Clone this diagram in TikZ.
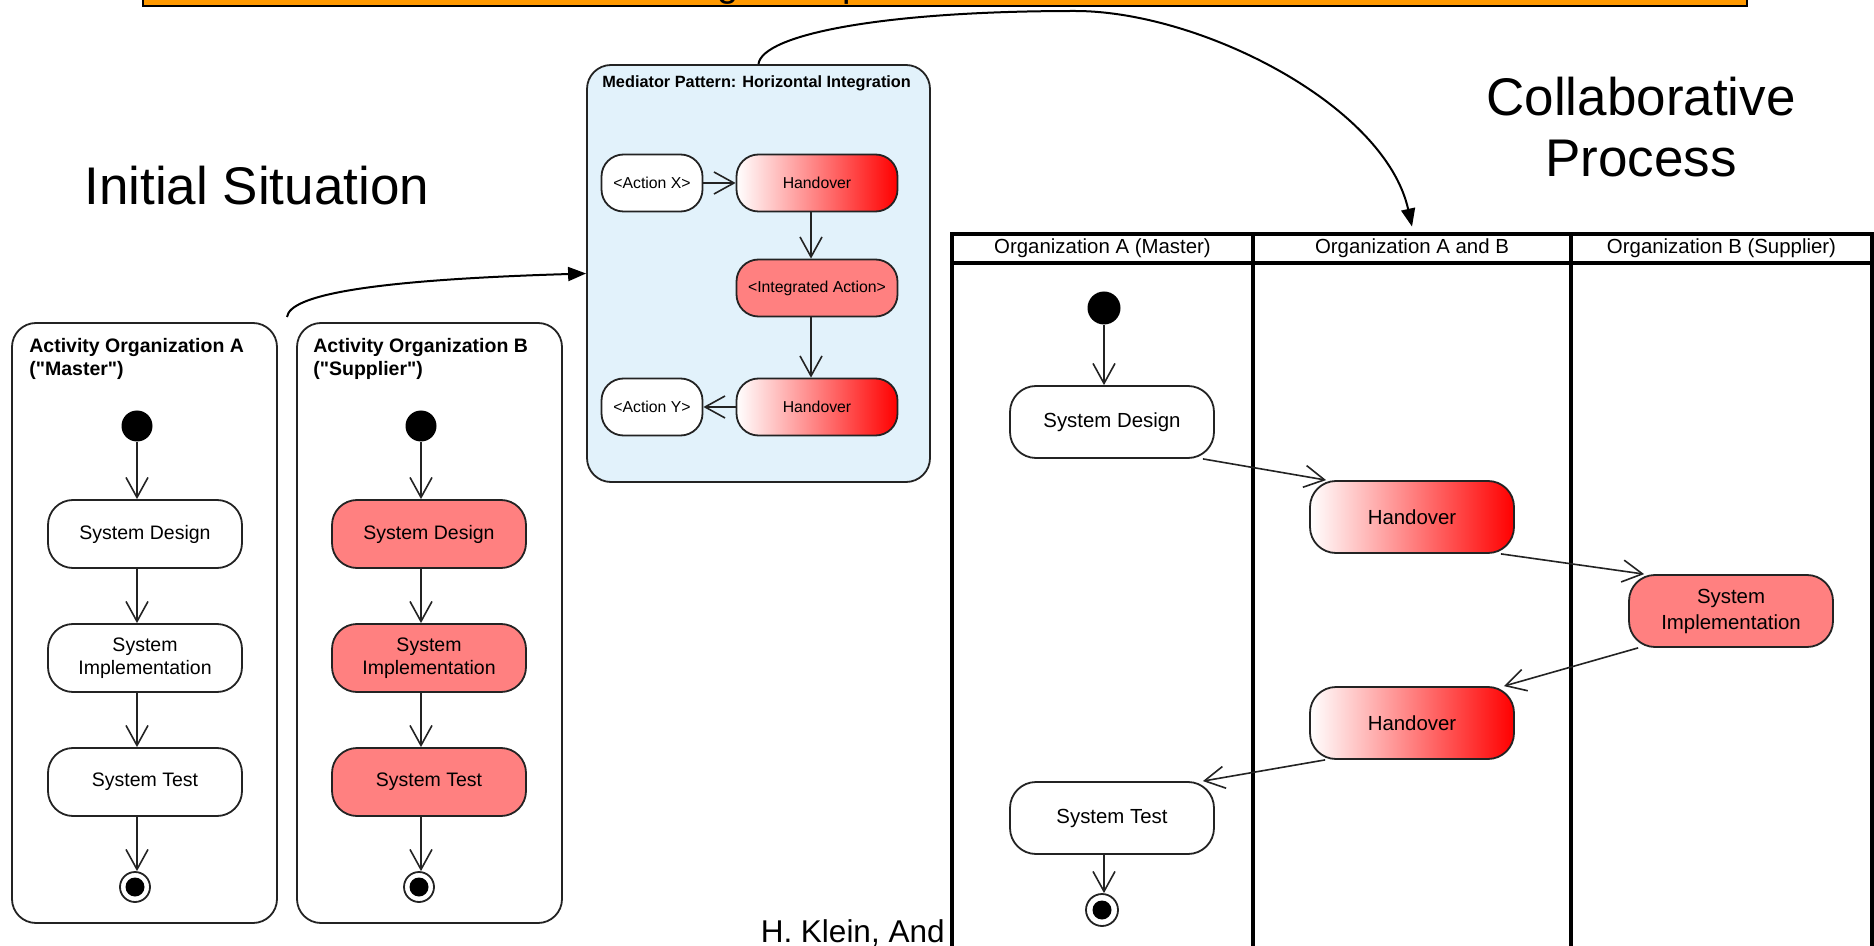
\documentclass[tikz,border=0pt]{standalone}
\usepackage{fontspec}
\setmainfont{Liberation Sans}
\usetikzlibrary{arrows.meta, calc}

\definecolor{salmon}{RGB}{255,128,128}
\definecolor{paleblue}{RGB}{226,242,251}
\definecolor{barorange}{RGB}{255,153,0}
\definecolor{edge}{RGB}{35,35,35}

\newcommand{\fsz}[2]{\fontsize{#1}{#2}\selectfont}

\begin{document}
\begin{tikzpicture}[x=0.5pt, y=-0.5pt,
  container/.style={draw=edge, line width=0.9pt, rounded corners=12pt, inner sep=0},
  act/.style={draw=edge, line width=0.9pt, rounded corners=12.5pt, align=center, inner sep=0,
    minimum width=97pt, minimum height=34pt, font=\fsz{9.75}{11.5}},
  mact/.style={draw=edge, line width=0.9pt, rounded corners=11pt, align=center, inner sep=0,
    minimum height=28.5pt, font=\fsz{7.9}{9.5}},
  sact/.style={act, minimum width=102pt, minimum height=36pt, rounded corners=13pt, font=\fsz{10.2}{13}},
  redfill/.style={fill=salmon},
  handover/.style={left color=white, right color=red},
  startdot/.style={circle, fill=black, inner sep=0, minimum size=#1},
  startdot/.default=15.5pt,
  enddot/.style={circle, draw=edge, line width=0.9pt, fill=white, inner sep=0, minimum size=15pt,
    path picture={\fill[black] (path picture bounding box.center) circle (4.75pt);}},
  flow/.style={draw=edge, line width=0.8pt, -{Straight Barb[length=10pt, width=11pt, line width=0.8pt]}},
  bigarrow/.style={draw=black, line width=1pt, -{Triangle[length=9pt, width=7pt]}},
  lanerule/.style={draw=black, line width=1.75pt},
  lanehead/.style={inner sep=0, minimum height=14.5pt, font=\fsz{10.2}{12}},
  biglabel/.style={inner sep=0, font=\fsz{26.5}{30.5}, align=center},
  boxtitle/.style={inner sep=0, font=\fsz{9.75}{11.5}\bfseries, align=left}
]
\useasboundingbox (0,0) rectangle (1874,946);
\clip (0,0) rectangle (1874,946);
\fill[white] (0,0) rectangle (1874,946);

% banner along the top edge (its title runs above the page, only descenders remain)
\draw[fill=barorange, draw=black, line width=1.2pt] (143,-20) rectangle (1747,6);
\node[inner sep=0, anchor=base west, font=\fsz{19}{22}] (bg) at (717,-3) {g};
\node[inner sep=0, anchor=base west, font=\fsz{19}{22}] (bp) at (842,-3) {p};

% headings
\node[biglabel, anchor=base west] (lblinit) at (84,205) {Initial Situation};
\node[biglabel, anchor=north] (lblcollab) at (1641,77) {Collaborative\\Process};
\node[inner sep=0, anchor=base east, font=\fsz{15.75}{18}] (author) at (945,942) {H. Klein, And};

% ---------- activity of organization A ----------
\node[container, minimum width=132.5pt, minimum height=300pt] (boxA) at (144.5,623) {};
\node[boxtitle, anchor=north west] (titleA) at (29,338) {Activity Organization A\\(\textquotedbl Master\textquotedbl)};
\node[startdot] (iA) at (137,426) {};
\node[act] (sdA) at (145,534) {System Design};
\node[act] (siA) at (145,658) {System\\Implementation};
\node[act] (stA) at (145,782) {System Test};
\node[enddot] (fA) at (135,887) {};
\draw[flow] (iA) -- (iA |- sdA.north);
\draw[flow] (sdA.south -| iA) -- (siA.north -| iA);
\draw[flow] (siA.south -| iA) -- (stA.north -| iA);
\draw[flow] (stA.south -| iA) -- (fA.north -| iA);

% ---------- activity of organization B ----------
\node[container, minimum width=132.5pt, minimum height=300pt] (boxB) at (429.5,623) {};
\node[boxtitle, anchor=north west] (titleB) at (313,338) {Activity Organization B\\(\textquotedbl Supplier\textquotedbl)};
\node[startdot] (iB) at (421,426) {};
\node[act, redfill] (sdB) at (429,534) {System Design};
\node[act, redfill] (siB) at (429,658) {System\\Implementation};
\node[act, redfill] (stB) at (429,782) {System Test};
\node[enddot] (fB) at (419,887) {};
\draw[flow] (iB) -- (iB |- sdB.north);
\draw[flow] (sdB.south -| iB) -- (siB.north -| iB);
\draw[flow] (siB.south -| iB) -- (stB.north -| iB);
\draw[flow] (stB.south -| iB) -- (fB.north -| iB);

% ---------- mediator pattern ----------
\node[container, fill=paleblue, minimum width=171.5pt, minimum height=208.5pt] (med) at (758.5,273.5) {};
\node[inner sep=0, anchor=base west, font=\fsz{8.15}{10}\bfseries] (medtitle) at (602,88)
  {Mediator Pattern: Horizontal Integration};
\node[mact, fill=white, minimum width=50.5pt] (ax) at (652,183) {<Action X>};
\node[mact, handover, minimum width=80.5pt] (hm1) at (817,183) {Handover};
\node[mact, redfill, minimum width=80.5pt] (ia) at (817,288) {<Integrated Action>};
\node[mact, handover, minimum width=80.5pt] (hm2) at (817,407) {Handover};
\node[mact, fill=white, minimum width=50.5pt] (ay) at (652,407) {<Action Y>};
\draw[flow] (ax) -- (hm1);
\draw[flow] ([xshift=-3pt]hm1.south) -- ([xshift=-3pt]ia.north);
\draw[flow] ([xshift=-3pt]ia.south) -- ([xshift=-3pt]hm2.north);
\draw[flow] (hm2) -- (ay);

% ---------- swimlanes of the collaborative process ----------
\draw[lanerule] (952,950) -- (952,234) -- (1872,234) -- (1872,950);
\draw[lanerule] (952,263) -- (1872,263);
\draw[lanerule] (1253,234) -- (1253,950);
\draw[lanerule] (1571,234) -- (1571,950);
\node[lanehead, minimum width=150.5pt] (h1) at (1102.5,248.5) {Organization A (Master)};
\node[lanehead, minimum width=159pt] (h2) at (1412,248.5) {Organization A and B};
\node[lanehead, minimum width=150.5pt] (h3) at (1721.5,248.5) {Organization B (Supplier)};

\node[startdot=16.5pt] (iS) at (1104,308) {};
\node[sact] (sdS) at (1112,422) {System Design};
\node[sact, handover] (hS1) at (1412,517) {Handover};
\node[sact, redfill] (siS) at (1731,611) {System\\Implementation};
\node[sact, handover] (hS2) at (1412,723) {Handover};
\node[sact] (stS) at (1112,818) {System Test};
\node[enddot, minimum size=16pt] (fS) at (1102,910) {};
\draw[flow] (iS) -- (iS |- sdS.north);
\draw[flow] ([xshift=-6pt]sdS.south east) -- ([xshift=8.5pt]hS1.north west);
\draw[flow] ([xshift=-7pt]hS1.south east) -- ([xshift=8pt]siS.north west);
\draw[flow] ([xshift=5pt]siS.south west) -- ([xshift=-5.5pt]hS2.north east);
\draw[flow] ([xshift=8pt]hS2.south west) -- ([xshift=-6pt]stS.north east);
\draw[flow] (stS.south -| iS) -- (fS.north -| iS);

% ---------- transitions between the three views ----------
\coordinate (src) at (287,317);
\draw[bigarrow] (src) .. controls (290,295) and (370,280) .. (med.west);
\draw[bigarrow] (med.north) .. controls (762,35) and (880,11) .. (1075,11)
  .. controls (1200,11) and (1385,105) .. ([yshift=3.5pt]h2.north);
\end{tikzpicture}
\end{document}
